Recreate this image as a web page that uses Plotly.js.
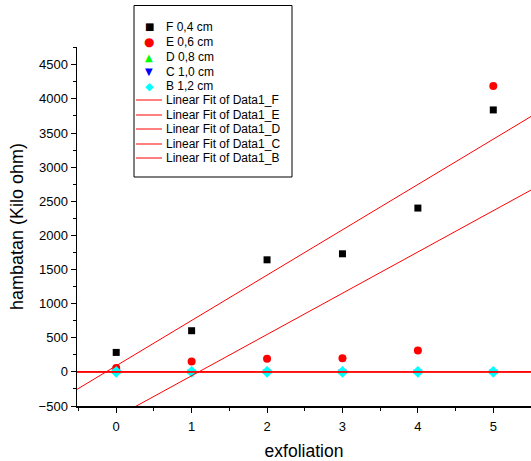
<!DOCTYPE html>
<html>
<head>
<meta charset="utf-8">
<script src="https://cdn.plot.ly/plotly-3.0.1.min.js"></script>
<style>html,body{margin:0;padding:0;background:#fff;}#chart{width:531px;height:461px;}</style>
</head>
<body>
<div id="chart"></div>
<script>
// ---- data ----
const exfoliation = [0, 1, 2, 3, 4, 5];
const F = [285, 603, 1642, 1730, 2400, 3838];
const E = [55, 152, 191, 200, 312, 4190];
const D = [2, 1, 1, 1, 1, 1];
const C = [1, 1, 1, 1, 1, 1];
const B = [1, 1, 1, 1, 1, 1];
const seriesNames = ['F 0,4 cm', 'E 0,6 cm', 'D 0,8 cm', 'C 1,0 cm', 'B 1,2 cm'];
const fitNames = ['Linear Fit of Data1_F', 'Linear Fit of Data1_E', 'Linear Fit of Data1_D', 'Linear Fit of Data1_C', 'Linear Fit of Data1_B'];
const yTickVals = [-500, 0, 500, 1000, 1500, 2000, 2500, 3000, 3500, 4000, 4500];
const xTickVals = [0, 1, 2, 3, 4, 5];

// ---- styles ----
const series = [F, E, D, C, B];
const symbols = ['square', 'circle', 'triangle-up', 'triangle-down', 'diamond'];
const colors = ['#000000', '#ff0000', '#00ff00', '#0000ff', '#00ffff'];
const sizes = [7, 8, 8, 8, 9];
const glyphs = ['\u25A0', '\u25CF', '\u25B2', '\u25BC', '\u25C6'];
const glyphSizes = [10, 12, 10, 10, 11];
const fitWidths = [1, 1, 1.3, 1.3, 1.3];

const xRange = [-0.52, 5.5];
const yRange = [-500, 4760];

function linfit(xs, ys) {
  const n = xs.length;
  const mx = xs.reduce((a, b) => a + b, 0) / n;
  const my = ys.reduce((a, b) => a + b, 0) / n;
  let sxy = 0, sxx = 0;
  for (let i = 0; i < n; i++) { sxy += (xs[i] - mx) * (ys[i] - my); sxx += (xs[i] - mx) ** 2; }
  const m = sxy / sxx;
  return { m: m, b: my - m * mx };
}

const traces = [];
series.forEach((ys, i) => {
  traces.push({
    x: exfoliation, y: ys, mode: 'markers', type: 'scatter', name: seriesNames[i],
    marker: { symbol: symbols[i], color: colors[i], size: sizes[i] },
    showlegend: false
  });
});
series.forEach((ys, i) => {
  const f = linfit(exfoliation, ys);
  traces.push({
    x: xRange, y: xRange.map(v => f.m * v + f.b), mode: 'lines', type: 'scatter', name: fitNames[i],
    line: { color: '#ff0000', width: fitWidths[i] }, showlegend: false
  });
});

// ---- layout helpers (pixel -> paper) ----
const L = 77, T = 47, W = 454, H = 359;
const px = p => (p - L) / W;
const py = p => (T + H - p) / H;

const rowsY = [27, 42, 57, 72, 86, 100, 115, 129, 144, 158];
const shapes = [{
  type: 'rect', xref: 'paper', yref: 'paper', x0: px(134), x1: px(292), y0: py(5.5), y1: py(177),
  line: { color: '#000', width: 1 }, fillcolor: 'rgba(0,0,0,0)'
}];
const annotations = [];
seriesNames.forEach((nm, i) => {
  annotations.push({ xref: 'paper', yref: 'paper', x: px(149), y: py(rowsY[i]), text: glyphs[i], showarrow: false,
    xanchor: 'center', yanchor: 'middle', font: { family: 'DejaVu Sans', size: glyphSizes[i], color: colors[i] } });
  annotations.push({ xref: 'paper', yref: 'paper', x: px(164), y: py(rowsY[i]), text: nm, showarrow: false,
    xanchor: 'left', yanchor: 'middle', font: { family: 'Arial, Liberation Sans', size: 12, color: '#000' } });
});
fitNames.forEach((nm, j) => {
  const r = rowsY[5 + j];
  shapes.push({ type: 'line', xref: 'paper', yref: 'paper', x0: px(136), x1: px(162), y0: py(r), y1: py(r),
    line: { color: '#ff0000', width: 1 } });
  annotations.push({ xref: 'paper', yref: 'paper', x: px(164), y: py(r), text: nm, showarrow: false,
    xanchor: 'left', yanchor: 'middle', font: { family: 'Arial, Liberation Sans', size: 12, color: '#000' } });
});

const layout = {
  width: 531, height: 461,
  margin: { l: L, r: 0, t: T, b: 461 - T - H, pad: 0 },
  paper_bgcolor: '#fff', plot_bgcolor: '#fff',
  showlegend: false,
  font: { family: 'Arial, Liberation Sans', color: '#000' },
  xaxis: {
    range: xRange, tickvals: xTickVals, ticks: 'outside', ticklen: 5, tickwidth: 1, tickcolor: '#000',
    showline: true, linecolor: '#000', linewidth: 1.5, showgrid: false, zeroline: false,
    tickfont: { size: 13, color: '#000' }, ticklabelstandoff: 3,
    minor: { dtick: 0.5, tick0: 0, ticks: 'outside', ticklen: 3, tickcolor: '#000', showgrid: false },
    title: { text: 'exfoliation', font: { size: 17.5, color: '#000' }, standoff: 12 }
  },
  yaxis: {
    range: yRange, tickvals: yTickVals, ticks: 'outside', ticklen: 5, tickwidth: 1, tickcolor: '#000',
    showline: true, linecolor: '#000', linewidth: 1.5, showgrid: false, zeroline: false,
    tickfont: { size: 13, color: '#000' },
    minor: { dtick: 250, tick0: 0, ticks: 'outside', ticklen: 3, tickcolor: '#000', showgrid: false },
    title: { text: 'hambatan (Kilo ohm)', font: { size: 18, color: '#000' }, standoff: 10 }
  },
  shapes: shapes,
  annotations: annotations
};

Plotly.newPlot('chart', traces, layout, { displayModeBar: false, staticPlot: true });
</script>
</body>
</html>
